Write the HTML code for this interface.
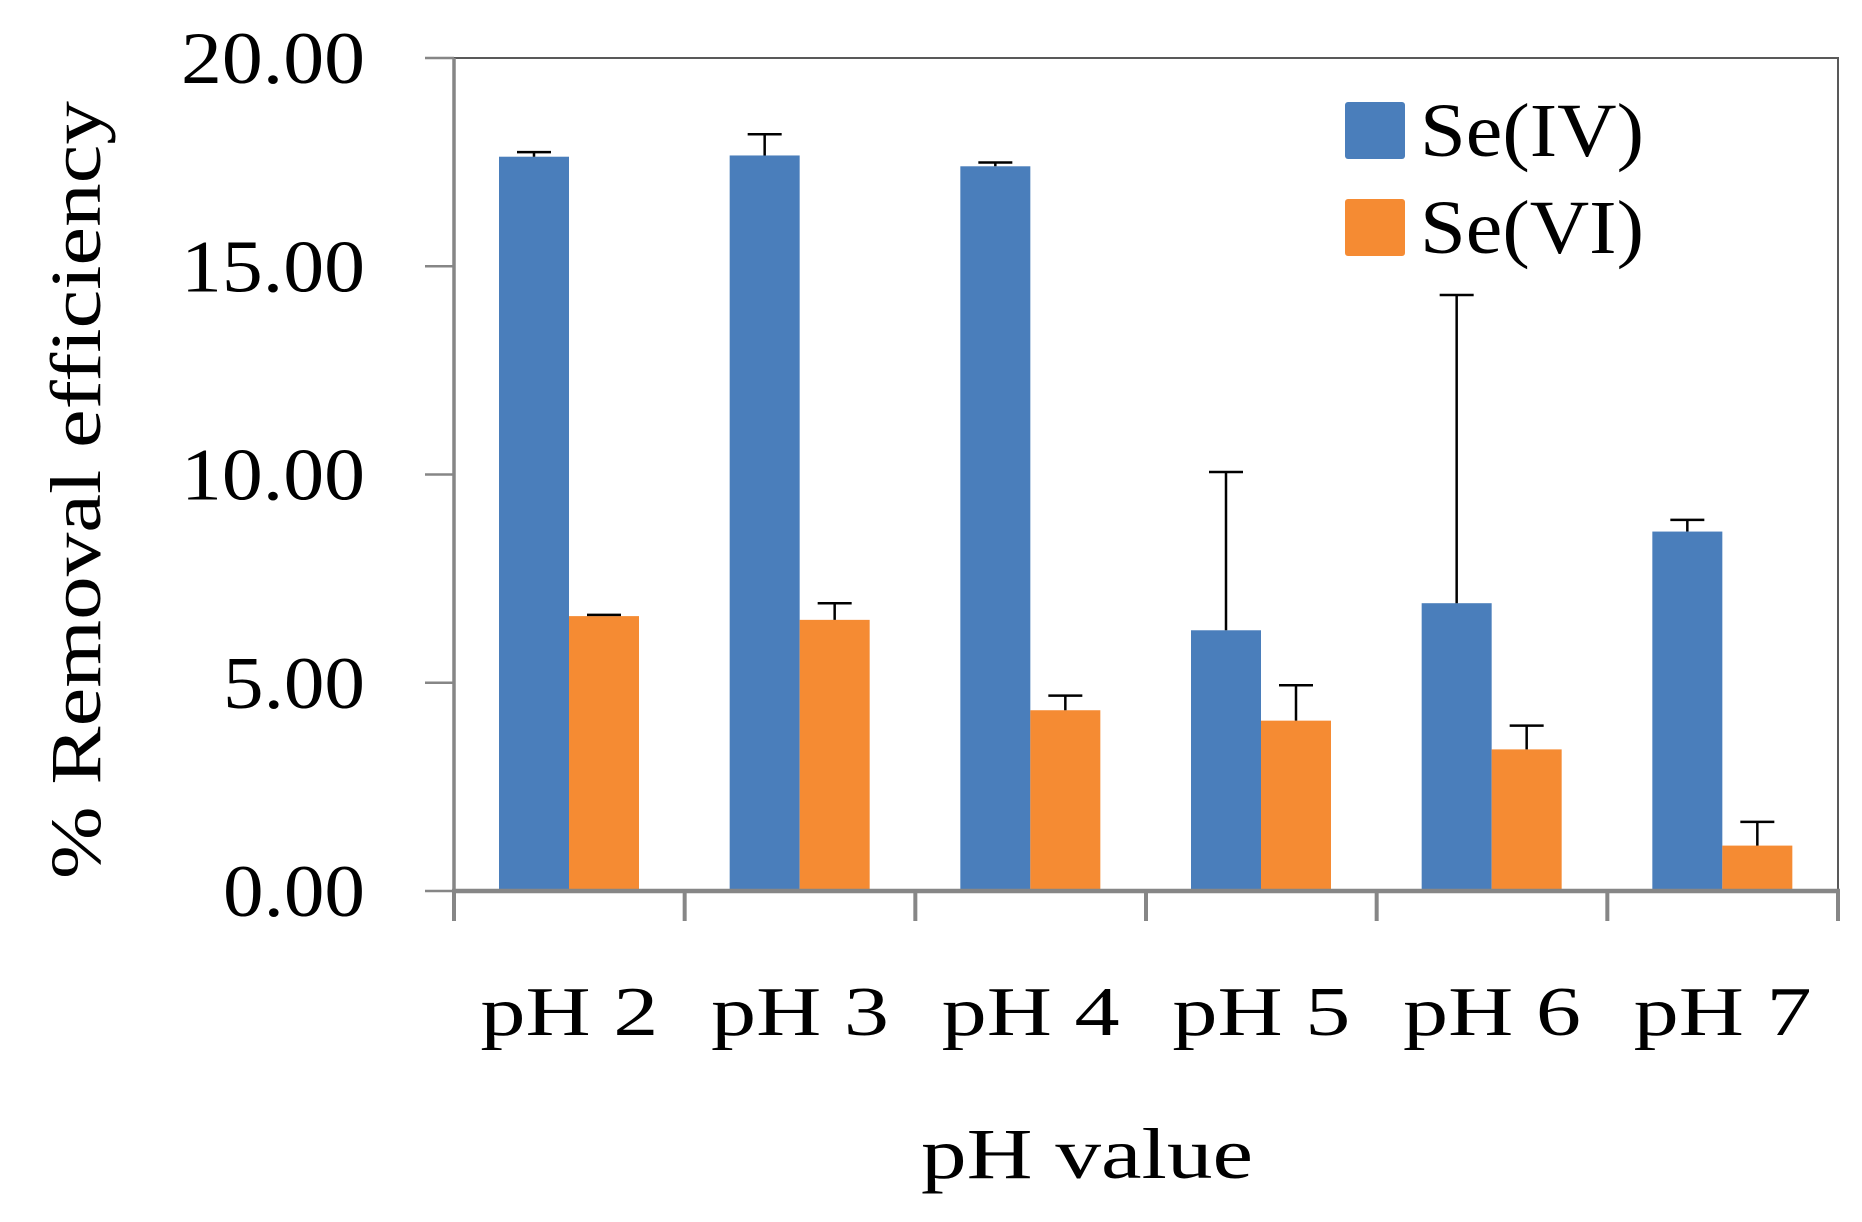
<!DOCTYPE html>
<html><head><meta charset="utf-8"><style>html,body{margin:0;padding:0;background:#fff}svg{display:block}</style></head>
<body>
<svg id="chart" width="1862" height="1222" viewBox="0 0 1862 1222" xmlns="http://www.w3.org/2000/svg" font-family="'Liberation Serif', serif">
<g id="g"></g>
</svg>
<script>
const categories = ["pH 2","pH 3","pH 4","pH 5","pH 6","pH 7"];
const seIV = [17.63,17.66,17.40,6.26,6.91,8.63];
const seIVErr = [0.11,0.51,0.09,3.80,7.40,0.28];
const seVI = [6.60,6.51,4.34,4.09,3.40,1.09];
const seVIErr = [0.03,0.40,0.35,0.85,0.57,0.57];
const yTicks = [0,5,10,15,20];
const yTickLabels = ["0.00","5.00","10.00","15.00","20.00"];

const NS="http://www.w3.org/2000/svg";
const g=document.getElementById('g');
const L=454,R=1838,T=58,B=891,yMax=20;
const catW=(R-L)/categories.length;
const y=v=>B-(v/yMax)*(B-T);
const xc=i=>L+catW*i;
function mk(t,a){const e=document.createElementNS(NS,t);for(const k in a)e.setAttribute(k,a[k]);g.appendChild(e);return e;}

let fr=mk('path',{d:`M${L},${T}H${R}V${B}`,fill:'none',stroke:'#595959','stroke-width':2});



const barW=70,pad=45;
categories.forEach((c,i)=>{
  const x0=xc(i)+pad;
  [[seIV,seIVErr,'#4a7ebb','se-iv'],[seVI,seVIErr,'#f58b33','se-vi']].forEach((s,j)=>{
    const v=s[0][i],e=s[1][i],bx=x0+j*barW;
    const b=mk('rect',{x:bx,y:y(v),width:barW,height:B-y(v),fill:s[2]});
    
    
    const cx=bx+barW/2;
    const eb=mk('path',{d:`M${cx},${y(v)}V${y(v+e)}M${cx-17},${y(v+e)}H${cx+17}`,stroke:'#000','stroke-width':2.5,fill:'none'});
    
    
  });
  const t=mk('text',{x:xc(i)+catW/2,y:1035,'font-size':70,'text-anchor':'middle',textLength:178,lengthAdjust:'spacingAndGlyphs'});
  t.textContent=c;
  
  
});

yTicks.forEach((v,i)=>{
  const tk=mk('line',{x1:425,x2:L,y1:y(v),y2:y(v),stroke:'#868686','stroke-width':2.5});
  
  
  const lb=yTickLabels[i];
  const t=mk('text',{x:365,y:y(v)+25,'font-size':74,'text-anchor':'end',textLength:lb.length>4?184:142,lengthAdjust:'spacingAndGlyphs'});
  t.textContent=lb;
  
  
});
let ya=mk('line',{x1:L,x2:L,y1:T,y2:B+2,stroke:'#868686','stroke-width':3.5});


let xa=mk('line',{x1:L-2,x2:R+2,y1:B,y2:B,stroke:'#868686','stroke-width':4.5});


for(let i=0;i<=categories.length;i++){
  const tk=mk('line',{x1:xc(i),x2:xc(i),y1:B,y2:921,stroke:'#868686','stroke-width':4});
  
  
}

let yt=mk('text',{x:0,y:0,'font-size':72,'text-anchor':'middle',textLength:778,lengthAdjust:'spacingAndGlyphs',transform:'translate(100,490) rotate(-90)'});
yt.textContent='% Removal efficiency';


let xt=mk('text',{x:1087,y:1178,'font-size':72,'text-anchor':'middle',textLength:332,lengthAdjust:'spacingAndGlyphs'});
xt.textContent='pH value';



[['Se(IV)','#4a7ebb',102],['Se(VI)','#f58b33',199]].forEach(l=>{
  const r=mk('rect',{x:1345,y:l[2],width:60,height:57,rx:3,fill:l[1]});
  
  
  const t=mk('text',{x:1420,y:l[2]+54,'font-size':76,textLength:224,lengthAdjust:'spacingAndGlyphs'});
  t.textContent=l[0];
  
  
});
</script>
</body></html>
